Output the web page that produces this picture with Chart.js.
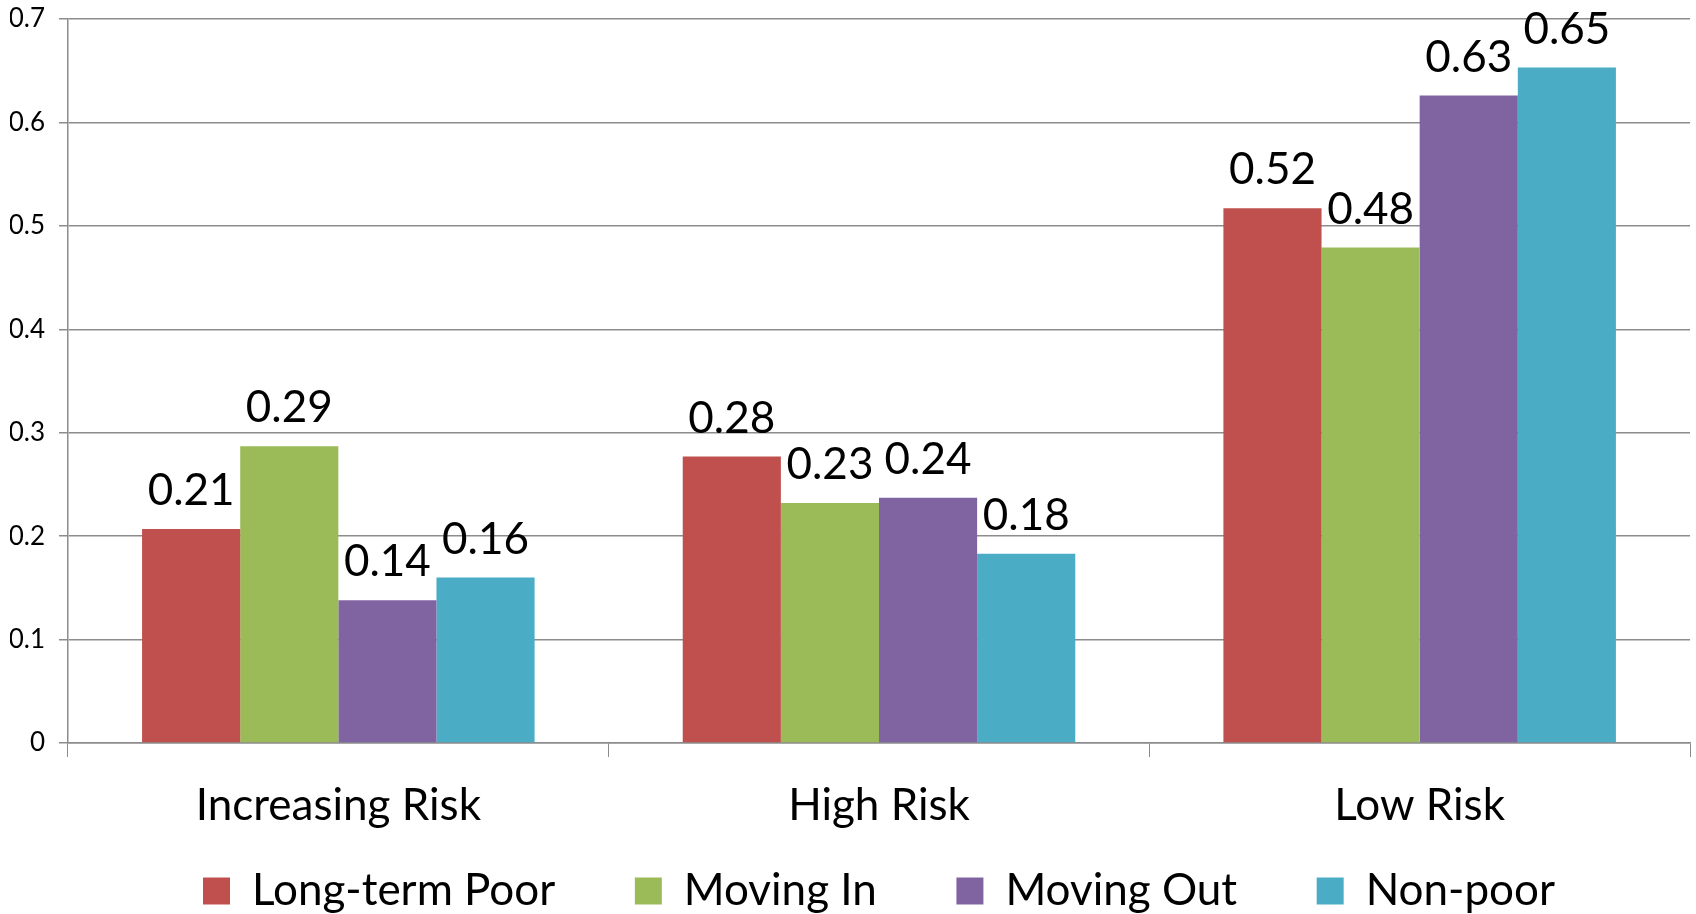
<!DOCTYPE html>
<html>
<head>
<meta charset="utf-8">
<script src="https://cdn.jsdelivr.net/npm/chart.js@4.4.1/dist/chart.umd.min.js"></script>
<style>
  html, body { margin: 0; padding: 0; background: #ffffff; }
  #wrap { width: 1696px; height: 914px; }
</style>
</head>
<body>
<div id="wrap"><canvas id="chartRisco"></canvas></div>
<script>
const categorias = ['Increasing Risk', 'High Risk', 'Low Risk'];
const longTermPoor = [0.207, 0.277, 0.517];
const movingIn = [0.287, 0.232, 0.479];
const movingOut = [0.138, 0.237, 0.626];
const nonPoor = [0.160, 0.183, 0.653];
const yTicks = [0, 0.1, 0.2, 0.3, 0.4, 0.5, 0.6, 0.7];

const fonte = 'Lato, "Open Sans", sans-serif';
const espacos = '      '; // afasta os itens da legenda

// rótulos em cima das barras (sem plugin externo)
const rotulosBarras = {
    id: 'rotulosBarras',
    afterDatasetsDraw(chart) {
        const ctx = chart.ctx;
        ctx.save();
        ctx.fillStyle = '#000000';
        ctx.font = '44px ' + fonte;
        ctx.textAlign = 'center';
        ctx.textBaseline = 'alphabetic';
        chart.data.datasets.forEach((ds, i) => {
            chart.getDatasetMeta(i).data.forEach((bar, j) => {
                ctx.fillText(ds.data[j].toFixed(2), bar.x, bar.y - 24);
            });
        });
        ctx.restore();
    }
};

const ctxRisco = document.getElementById('chartRisco');
const chartRisco = new Chart(ctxRisco, {
    type: 'bar',
    data: {
        labels: categorias,
        datasets: [
            { label: 'Long-term Poor', backgroundColor: '#C0504D', data: longTermPoor },
            { label: 'Moving In', backgroundColor: '#9BBB59', data: movingIn },
            { label: 'Moving Out', backgroundColor: '#8064A2', data: movingOut },
            { label: 'Non-poor', backgroundColor: '#4BACC6', data: nonPoor }
        ]
    },
    options: {
        responsive: true,
        maintainAspectRatio: false,
        animation: false,
        layout: { padding: { top: 19, right: 6, left: 10, bottom: -9 } },
        datasets: { bar: { categoryPercentage: 0.726, barPercentage: 1.0 } },
        plugins: {
            legend: {
                position: 'bottom',
                fullSize: false,
                labels: {
                    color: '#000000',
                    font: { family: fonte, size: 44 },
                    boxWidth: 27,
                    boxHeight: 27,
                    padding: 12,
                    generateLabels: function(chart) {
                        const itens = Chart.defaults.plugins.legend.labels.generateLabels(chart);
                        itens.forEach((it, i) => {
                            if (i < itens.length - 1) it.text = it.text + espacos;
                        });
                        return itens;
                    }
                }
            },
            tooltip: { enabled: false }
        },
        scales: {
            x: {
                afterFit: (s) => { s.height = 114; },
                grid: {
                    offset: true,
                    drawOnChartArea: false,
                    color: '#8c8c8c',
                    tickLength: 14
                },
                border: { color: '#8c8c8c', width: 1.5 },
                ticks: {
                    color: '#000000',
                    font: { family: fonte, size: 44 },
                    padding: 22
                }
            },
            y: {
                min: 0,
                max: 0.7,
                afterBuildTicks: (s) => { s.ticks = yTicks.map(v => ({ value: v })); },
                afterFit: (s) => { s.width = 58; s.paddingTop = 0; s.paddingBottom = 0; },
                grid: { color: '#8c8c8c', lineWidth: 1.5, tickLength: 9 },
                border: { color: '#8c8c8c', width: 1.5 },
                ticks: {
                    color: '#000000',
                    font: { family: fonte, size: 26 },
                    padding: 14,
                    callback: (v) => String(v)
                }
            }
        }
    },
    plugins: [rotulosBarras]
});
</script>
</body>
</html>
